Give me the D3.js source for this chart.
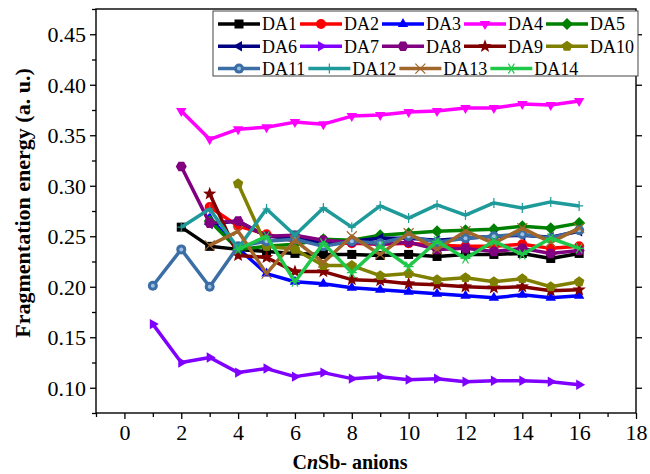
<!DOCTYPE html>
<html>
<head>
  <style>
    body { margin: 0; background: #fff; }
  </style>
</head>
<body>
  <script src="https://d3js.org/d3.v7.min.js"></script>
  <script>
    // series names, first n of each series and the values
    var names = ["DA1","DA2","DA3","DA4","DA5","DA6","DA7","DA8","DA9","DA10","DA11","DA12","DA13","DA14"];
    var startN = [2, 3, 3, 2, 3, 3, 1, 2, 3, 4, 1, 2, 3, 4];

    var da1 = [0.259,0.240,0.237,0.235,0.233,0.232,0.232,0.231,0.232,0.230,0.232,0.232,0.233,0.228,0.233];
    var da2 = [0.279,0.260,0.252,0.245,0.243,0.243,0.242,0.243,0.241,0.240,0.240,0.242,0.238,0.240];
    var da3 = [0.268,0.238,0.213,0.205,0.203,0.199,0.197,0.195,0.193,0.191,0.189,0.192,0.189,0.191];
    var da4 = [0.374,0.346,0.356,0.358,0.363,0.361,0.369,0.370,0.373,0.374,0.377,0.377,0.381,0.380,0.384];
    var da5 = [0.265,0.237,0.240,0.242,0.247,0.246,0.251,0.253,0.255,0.256,0.257,0.260,0.258,0.263];
    var da6 = [0.262,0.265,0.250,0.248,0.243,0.245,0.248,0.248,0.246,0.248,0.250,0.251,0.249,0.255];
    var da7 = [0.163,0.125,0.130,0.115,0.119,0.111,0.115,0.109,0.111,0.108,0.109,0.106,0.107,0.107,0.106,0.103];
    var da8 = [0.319,0.263,0.265,0.250,0.251,0.246,0.244,0.242,0.244,0.237,0.238,0.235,0.238,0.233,0.236];
    var da9 = [0.292,0.231,0.229,0.215,0.215,0.207,0.206,0.203,0.202,0.200,0.199,0.200,0.196,0.197];
    var da10 = [0.302,0.240,0.237,0.221,0.221,0.211,0.213,0.207,0.209,0.205,0.208,0.200,0.205];
    var da11 = [0.201,0.237,0.200,0.240,0.245,0.247,0.240,0.245,0.243,0.250,0.244,0.248,0.250,0.252,0.248,0.256];
    var da12 = [0.259,0.277,0.238,0.277,0.251,0.278,0.259,0.280,0.268,0.281,0.271,0.283,0.278,0.284,0.280];
    var da13 = [0.241,0.255,0.213,0.246,0.224,0.250,0.232,0.253,0.237,0.255,0.243,0.258,0.244,0.258];
    var da14 = [0.237,0.250,0.205,0.243,0.214,0.240,0.220,0.245,0.228,0.245,0.232,0.248,0.238];

    var xTicks = [0, 2, 4, 6, 8, 10, 12, 14, 16, 18];
    var yTicks = [0.10, 0.15, 0.20, 0.25, 0.30, 0.35, 0.40, 0.45];

    var values = [da1, da2, da3, da4, da5, da6, da7, da8, da9, da10, da11, da12, da13, da14];
    var colors = ["#000000","#ff0000","#0000ff","#ff00ff","#008000","#000080","#8000ff",
                  "#800080","#800000","#808000","#3a6ea5","#1f9a9a","#a0662a","#20c84a"];
    var shapes = ["square","circle","triUp","triDown","diamond","triLeft","triRight",
                  "hexagon","star","pentagon","ringDot","plus","cross","asterisk"];

    var SERIF = "'Liberation Serif', 'Times New Roman', serif";
    var W = 650, H = 474;
    var svg = d3.select("body").append("svg").attr("width", W).attr("height", H)
      .style("font-family", SERIF);

    var x = d3.scaleLinear().domain([-1, 18]).range([96, 636]);
    var y = d3.scaleLinear().domain([0.075, 0.475]).range([413, 9]);

    // axes
    var xAxis = d3.axisBottom(x).tickValues(xTicks).tickSize(6).tickFormat(d3.format("d"));
    var xMinor = d3.axisBottom(x).tickValues(d3.range(-1, 18, 2)).tickSize(4).tickFormat("");
    var yAxis = d3.axisLeft(y).tickValues(yTicks).tickSize(6).tickFormat(d3.format(".2f"));
    var yMinor = d3.axisLeft(y).tickValues(d3.range(0.075, 0.476, 0.05)).tickSize(4).tickFormat("");
    var yRight = d3.axisLeft(y).tickValues(yTicks).tickSize(-6).tickFormat("");

    function styleAxis(g) {
      g.attr("font-family", SERIF).attr("font-size", 22);
      g.select(".domain").remove();
      g.selectAll("line").attr("stroke", "#000").attr("stroke-width", 1.3);
      g.selectAll("text").attr("fill", "#000")
        .style("font-family", SERIF).style("font-size", "22px");
    }

    svg.append("g").attr("transform", "translate(0,413)").call(xAxis).call(styleAxis)
      .selectAll("text").attr("y", 11).attr("dy", "0.71em");
    svg.append("g").attr("transform", "translate(0,413)").call(xMinor).call(styleAxis);
    svg.append("g").attr("transform", "translate(96,0)").call(yAxis).call(styleAxis)
      .selectAll("text").attr("x", -10).attr("dy", "0.34em");
    svg.append("g").attr("transform", "translate(96,0)").call(yMinor).call(styleAxis);
    svg.append("g").attr("transform", "translate(636,0)").call(yRight).call(styleAxis);

    // frame
    svg.append("rect").attr("x", 96).attr("y", 9).attr("width", 540).attr("height", 404)
      .attr("fill", "none").attr("stroke", "#000").attr("stroke-width", 1.4);

    // titles
    svg.append("text")
      .attr("transform", "translate(30,203) rotate(-90)")
      .attr("text-anchor", "middle")
      .style("font-family", SERIF).style("font-size", "22px").style("font-weight", "bold")
      .text("Fragmentation energy (a. u.)");
    var xt = svg.append("text").attr("x", 350).attr("y", 469)
      .attr("text-anchor", "middle")
      .style("font-family", SERIF).style("font-size", "20px").style("font-weight", "bold");
    xt.append("tspan").text("C");
    xt.append("tspan").style("font-style", "italic").text("n");
    xt.append("tspan").text("Sb- anions");

    // marker drawing
    function poly(n, r, rot) {
      var pts = d3.range(n).map(function(i) {
        var a = rot + i * 2 * Math.PI / n;
        return [r * Math.cos(a), r * Math.sin(a)];
      });
      return "M" + pts.join("L") + "Z";
    }
    function starPath(r) {
      var pts = d3.range(10).map(function(i) {
        var a = -Math.PI / 2 + i * Math.PI / 5, rr = i % 2 ? r * 0.42 : r;
        return [rr * Math.cos(a), rr * Math.sin(a)];
      });
      return "M" + pts.join("L") + "Z";
    }
    function marker(g, shape, c) {
      var p;
      switch (shape) {
        case "square": p = g.append("rect").attr("x", -4.5).attr("y", -4.5).attr("width", 9).attr("height", 9); break;
        case "circle": p = g.append("circle").attr("r", 5); break;
        case "triUp": p = g.append("path").attr("d", poly(3, 6, -Math.PI / 2)); break;
        case "triDown": p = g.append("path").attr("d", poly(3, 6, Math.PI / 2)); break;
        case "triLeft": p = g.append("path").attr("d", poly(3, 6, Math.PI)); break;
        case "triRight": p = g.append("path").attr("d", poly(3, 6, 0)); break;
        case "diamond": p = g.append("path").attr("d", poly(4, 6, 0)); break;
        case "hexagon": p = g.append("path").attr("d", poly(6, 5.5, 0)); break;
        case "pentagon": p = g.append("path").attr("d", poly(5, 5.5, -Math.PI / 2)); break;
        case "star": p = g.append("path").attr("d", starPath(7)); break;
        case "ringDot":
          g.append("circle").attr("r", 5).attr("fill", c);
          g.append("circle").attr("r", 2).attr("fill", "#9cc0e6");
          return;
        case "plus":
          g.append("path").attr("d", "M-4,0H4M0,-5V5").attr("stroke", c).attr("stroke-width", 1.2).attr("fill", "none");
          return;
        case "cross":
          g.append("path").attr("d", "M-5,-5L5,5M-5,5L5,-5").attr("stroke", c).attr("stroke-width", 1.2).attr("fill", "none");
          return;
        case "asterisk":
          g.append("path").attr("d", "M-5,0H5M-3,-5L3,5M-3,5L3,-5").attr("stroke", c).attr("stroke-width", 1.2).attr("fill", "none");
          return;
      }
      p.attr("fill", c);
    }

    var line = d3.line().x(function(d) { return x(d[0]); }).y(function(d) { return y(d[1]); });

    var plot = svg.append("g");
    values.forEach(function(vals, i) {
      var pts = vals.map(function(v, j) { return [startN[i] + j, v]; });
      var g = plot.append("g");
      g.append("path").datum(pts).attr("d", line).attr("fill", "none")
        .attr("stroke", colors[i]).attr("stroke-width", 3.5).attr("stroke-linejoin", "round");
      pts.forEach(function(d) {
        var m = g.append("g").attr("transform", "translate(" + x(d[0]) + "," + y(d[1]) + ")");
        marker(m, shapes[i], colors[i]);
      });
    });

    // legend
    var rows = [[0, 1, 2, 3, 4], [5, 6, 7, 8, 9], [10, 11, 12, 13]];
    var leg = svg.append("g");
    var box = leg.append("rect").attr("x", 213).attr("y", 11).attr("height", 65)
      .attr("fill", "#fff").attr("stroke", "#444").attr("stroke-width", 1);
    var maxRight = 0;
    rows.forEach(function(row, r) {
      var cx = 218, cy = 24 + r * 22.3;
      row.forEach(function(i) {
        var it = leg.append("g");
        it.append("line").attr("x1", cx).attr("x2", cx + 42).attr("y1", cy).attr("y2", cy)
          .attr("stroke", colors[i]).attr("stroke-width", 3.5);
        var m = it.append("g").attr("transform", "translate(" + (cx + 21) + "," + cy + ")");
        marker(m, shapes[i], colors[i]);
        var t = it.append("text").attr("x", cx + 44).attr("y", cy).attr("dy", "0.35em")
          .style("font-family", SERIF).style("font-size", "18px").attr("fill", "#000")
          .text(names[i]);
        var w = t.node().getComputedTextLength();
        cx = cx + 44 + w + 3;
      });
      maxRight = Math.max(maxRight, cx);
    });
    box.attr("width", maxRight - 213 + 1);
  </script>
</body>
</html>
